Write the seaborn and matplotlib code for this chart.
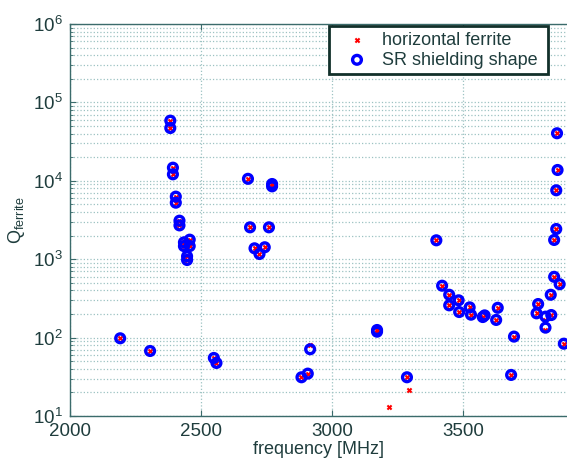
import matplotlib
matplotlib.use("Agg")
import matplotlib.pyplot as plt
import matplotlib.ticker as mticker
import seaborn as sns
import pandas as pd

# SR shielding shape (blue circles)
freq_sr = [2192, 2306, 2383, 2383, 2393, 2393, 2404, 2404, 2418, 2418,
           2435, 2435, 2457, 2457, 2447, 2447, 2549, 2559, 2679, 2687,
           2704, 2723, 2743, 2759, 2771, 2771, 2883, 2907, 2916, 3171,
           3171, 3285, 3397, 3419, 3446, 3446, 3482, 3484, 3524, 3529,
           3574, 3581, 3625, 3631, 3682, 3693, 3779, 3785, 3813, 3813,
           3835, 3833, 3846, 3867, 3846, 3854, 3854, 3859, 3857, 3883]
q_sr = [98, 67.5, 58500, 47100, 14700, 12100, 6280, 5260, 3100, 2700,
        1640, 1470, 1775, 1470, 1090, 977, 55, 47.5, 10600, 2550,
        1377, 1165, 1420, 2550, 9100, 8500, 31.2, 34.7, 71, 125,
        119, 31.2, 1742, 459, 352, 258, 299, 212, 243, 196,
        183, 192, 168, 240, 33.4, 103, 204, 268, 185, 134,
        194, 352, 596, 480, 1760, 2427, 7570, 13740, 40400, 83.6]

# horizontal ferrite (red crosses)
freq_hf = [2192, 2306, 2383, 2383, 2393, 2393, 2404, 2404, 2418, 2418,
           2435, 2435, 2457, 2457, 2447, 2447, 2549, 2559, 2679, 2687,
           2704, 2723, 2743, 2759, 2771, 2771, 2883, 2907, 2916, 3171,
           3171, 3218, 3285, 3292, 3397, 3419, 3446, 3446, 3482, 3484,
           3524, 3529, 3574, 3581, 3625, 3631, 3682, 3693, 3779, 3785,
           3813, 3813, 3835, 3833, 3846, 3867, 3846, 3854, 3854, 3859,
           3857, 3883]
q_hf = [98, 67.5, 58500, 47100, 14700, 12100, 6280, 5260, 3100, 2700,
        1640, 1470, 1775, 1470, 1090, 977, 55, 47.5, 10600, 2550,
        1377, 1165, 1420, 2550, 9100, 8500, 31.2, 34.7, 80, 125,
        119, 13.0, 31.2, 21.5, 1742, 459, 352, 258, 299, 212,
        243, 196, 183, 192, 168, 240, 33.4, 103, 204, 268,
        168, 124, 194, 352, 596, 480, 1760, 2427, 7570, 13740,
        40400, 83.6]

x_ticks = [2000, 2500, 3000, 3500]

sns.set_style("ticks")
plt.rcParams['font.family'] = ['Liberation Sans', 'DejaVu Sans']
plt.rcParams['mathtext.fontset'] = 'custom'
plt.rcParams['mathtext.rm'] = 'Liberation Sans'
plt.rcParams['mathtext.it'] = 'Liberation Sans:italic'

text_col = '#1f3d3d'
axis_col = '#3b6b6b'
grid_col = '#9cc2c2'

fig = plt.figure(figsize=(5.67, 4.59), dpi=100)
ax = fig.add_axes([69.8 / 567, 43 / 459, (567 - 69.8) / 567, 392 / 459])

df_hf = pd.DataFrame({'freq': freq_hf, 'Q': q_hf})
df_sr = pd.DataFrame({'freq': freq_sr, 'Q': q_sr})

sns.scatterplot(data=df_hf, x='freq', y='Q', ax=ax, marker='x', color='red',
                s=9, linewidth=1.5, label='horizontal ferrite', zorder=3)
sns.scatterplot(data=df_sr, x='freq', y='Q', ax=ax, marker='o', facecolor='none',
                edgecolor='blue', s=40, linewidth=2.4, label='SR shielding shape',
                zorder=4)

ax.set_yscale('log')
ax.set_xlim(2000, 3895)
ax.set_ylim(10, 1e6)
ax.set_xticks(x_ticks)
ax.xaxis.set_minor_locator(mticker.NullLocator())
ax.yaxis.set_major_locator(mticker.LogLocator(base=10, numticks=10))
ax.yaxis.set_minor_locator(mticker.LogLocator(base=10, subs=range(2, 10), numticks=100))
ax.yaxis.set_minor_formatter(mticker.NullFormatter())

ax.grid(which='major', axis='both', linestyle=':', color=grid_col, linewidth=0.9)
ax.grid(which='minor', axis='y', linestyle=':', color=grid_col, linewidth=0.9)
ax.set_axisbelow(True)

for side in ['left', 'bottom', 'top']:
    ax.spines[side].set_color(axis_col)
    ax.spines[side].set_linewidth(1.0)
ax.spines['right'].set_visible(False)

ax.tick_params(axis='both', which='both', direction='in', colors=axis_col,
               labelcolor=text_col, labelsize=13.5, top=True)
ax.tick_params(axis='both', which='major', length=4, pad=5)
ax.tick_params(axis='y', which='minor', length=2)

ax.set_xlabel('frequency [MHz]', fontsize=13, color=text_col, labelpad=1)
ax.set_ylabel(r'Q$_{\mathregular{ferrite}}$', fontsize=13, color=text_col, labelpad=4)

leg = ax.legend(loc='upper left', bbox_to_anchor=(329 / 567, 1 - 31 / 459, 219 / 567, 0.01),
                bbox_transform=fig.transFigure, mode='expand', borderaxespad=0,
                fontsize=13, frameon=True, fancybox=False, borderpad=0.3,
                labelspacing=0.15, handlelength=2.5, handletextpad=0.15)
leg.get_frame().set_edgecolor('#12302a')
leg.get_frame().set_linewidth(2.0)
leg.get_frame().set_alpha(1)
for t in leg.get_texts():
    t.set_color(text_col)

fig.savefig('out.png', dpi=100)
